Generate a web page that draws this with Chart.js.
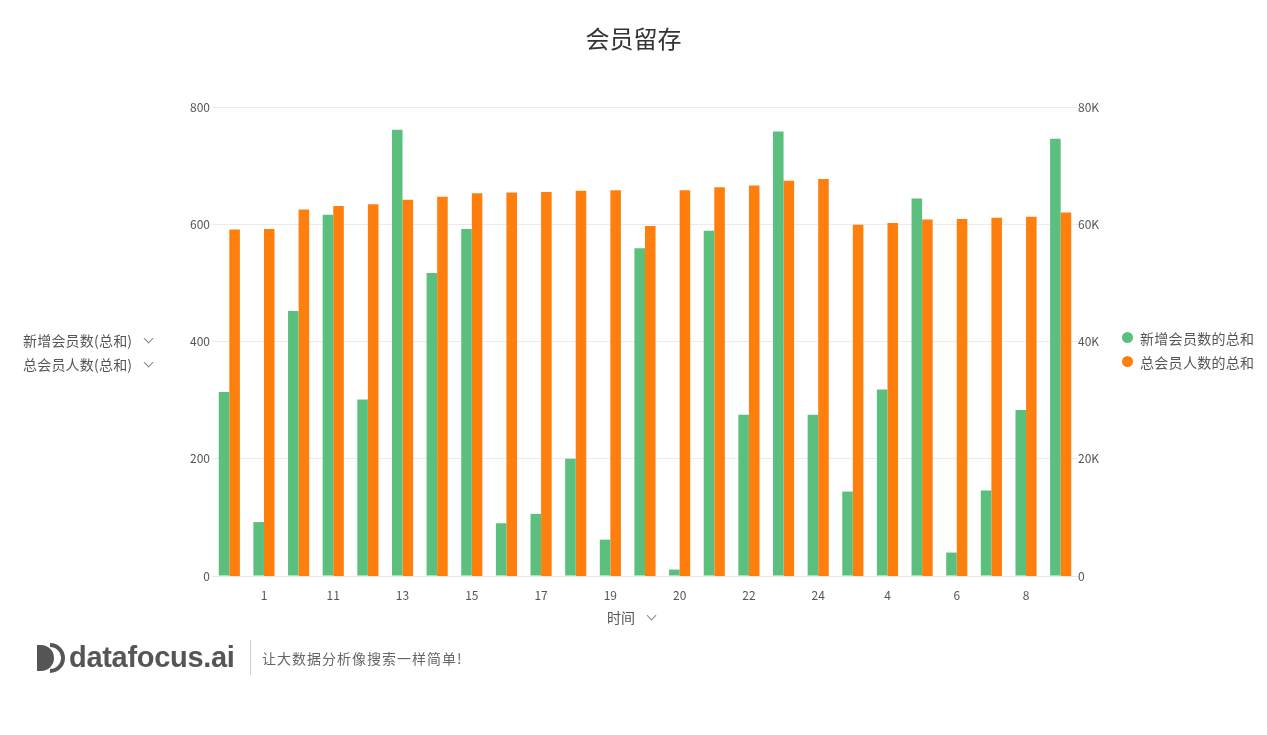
<!DOCTYPE html>
<html>
<head>
<meta charset="utf-8">
<script src="https://cdn.jsdelivr.net/npm/chart.js@4.4.1/dist/chart.umd.min.js"></script>
<style>
  html, body { margin: 0; padding: 0; background: #fff; }
  body { width: 1267px; height: 735px; position: relative; overflow: hidden;
         font-family: "Noto Sans CJK SC", "Noto Sans", sans-serif; color: #555; }
  #wrap { position: absolute; left: 0; top: 0; width: 1267px; height: 735px; }
  .txt { position: absolute; white-space: nowrap; font-size: 14px; line-height: 18px; color: #555; }
  .chev { display: inline-block; width: 6px; height: 6px; border-right: 1px solid #888;
          border-bottom: 1px solid #888; transform: rotate(45deg); margin-left: 13px;
          position: relative; top: -4px; }
  #title { position: absolute; left: 0; width: 1267px; top: 22px; text-align: center;
           font-size: 24px; color: #333; line-height: 32px; }
  .dot { position: absolute; width: 11px; height: 11px; border-radius: 50%; }
  #brand { position: absolute; left: 69px; top: 637px; font-family: "Liberation Sans", Arial, sans-serif;
           font-weight: bold; font-size: 29px; color: #555; letter-spacing: -0.3px; line-height: 40px; }
  #sep { position: absolute; left: 250px; top: 640px; width: 1px; height: 35px; background: #ccc; }
</style>
</head>
<body>
<div id="wrap"><canvas id="c" width="1267" height="735"></canvas></div>
<div id="title">会员留存</div>

<div class="txt" style="left:23px; top:331px; letter-spacing:0.2px;">新增会员数(总和)<span class="chev"></span></div>
<div class="txt" style="left:23px; top:355px; letter-spacing:0.2px;">总会员人数(总和)<span class="chev"></span></div>

<div class="txt" style="left:607px; top:608px;">时间<span class="chev"></span></div>

<div class="dot" style="left:1122px; top:332px; background:#5bc07d;"></div>
<div class="txt" style="left:1140px; top:329px; letter-spacing:0.3px;">新增会员数的总和</div>
<div class="dot" style="left:1122px; top:356px; background:#ff7f0e;"></div>
<div class="txt" style="left:1140px; top:353px; letter-spacing:0.3px;">总会员人数的总和</div>

<svg style="position:absolute; left:36px; top:642px;" width="32" height="32" viewBox="0 0 32 32">
  <path d="M1 3 L5 3 A12 12 0 0 1 5 29 L1 29 Z" fill="#555"/>
  <path d="M14 1 A15 15 0 0 1 14 31 L14 27 A11 11 0 0 0 14 5 Z" fill="#555"/>
</svg>
<div id="brand">datafocus.ai</div>
<div id="sep"></div>
<div class="txt" style="left:262px; top:649px; color:#666; letter-spacing:1px;">让大数据分析像搜索一样简单!</div>

<script>
const categories = ['0', '1', '10', '11', '12', '13', '14', '15', '16', '17', '18', '19',
  '2', '20', '21', '22', '23', '24', '3', '4', '5', '6', '7', '8', '9'];

const newMembers = [314, 92, 452, 616, 301, 761, 517, 592, 90, 106, 200, 62,
  559, 11, 589, 275, 758, 275, 144, 318, 644, 40, 146, 283, 746];

const totalMembers = [59100, 59200, 62500, 63100, 63400, 64200, 64700, 65300, 65400, 65500, 65700, 65800,
  59700, 65800, 66300, 66600, 67400, 67700, 59900, 60200, 60800, 60900, 61100, 61300, 62000];

const leftTicks = [0, 200, 400, 600, 800];
const rightTicks = [0, 20000, 40000, 60000, 80000];

const tickFont = { family: '"Noto Sans CJK SC", "Noto Sans", sans-serif', size: 12 };

new Chart(document.getElementById('c'), {
  type: 'bar',
  data: {
    labels: categories,
    datasets: [
      {
        label: '新增会员数的总和',
        data: newMembers,
        backgroundColor: '#5bc07d',
        yAxisID: 'y',
        categoryPercentage: 0.61,
        barPercentage: 1.0
      },
      {
        label: '总会员人数的总和',
        data: totalMembers,
        backgroundColor: '#ff7f0e',
        yAxisID: 'y1',
        categoryPercentage: 0.61,
        barPercentage: 1.0
      }
    ]
  },
  options: {
    responsive: false,
    animation: false,
    layout: { padding: { top: 107, left: 0, right: 0, bottom: 0 } },
    plugins: { legend: { display: false }, tooltip: { enabled: false } },
    scales: {
      x: {
        grid: { display: false, drawTicks: false },
        border: { color: '#e6e6e6' },
        ticks: {
          autoSkip: false, maxRotation: 0, padding: 12, color: '#555', font: tickFont,
          callback: (v, i) => (i % 2 === 1 ? categories[i] : '')
        },
        afterFit: s => { s.height = 159; }
      },
      y: {
        position: 'left',
        min: 0, max: 800,
        afterBuildTicks: s => { s.ticks = leftTicks.map(v => ({ value: v })); },
        grid: { color: '#ebebeb', drawTicks: false },
        border: { display: false },
        ticks: { padding: 2, color: '#555', font: tickFont },
        afterFit: s => { s.width = 212; }
      },
      y1: {
        position: 'right',
        min: 0, max: 80000,
        afterBuildTicks: s => { s.ticks = rightTicks.map(v => ({ value: v })); },
        grid: { display: false, drawTicks: false },
        border: { display: false },
        ticks: {
          padding: 0, color: '#555', font: tickFont,
          callback: v => (v === 0 ? '0' : (v / 1000) + 'K')
        },
        afterFit: s => { s.width = 1267 - 1078; }
      }
    }
  }
});
</script>
</body>
</html>
